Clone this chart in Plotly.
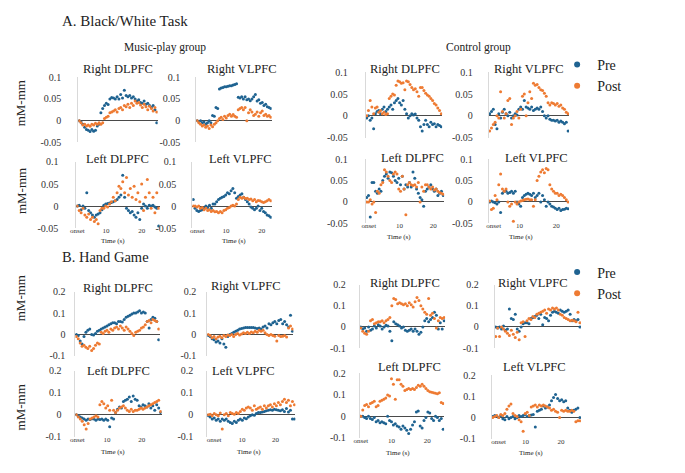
import plotly.graph_objects as go

W, H = 685, 473
N = 44
t = list(range(N))

# ---------------- A. Black/White Task : Music-play group ----------------
bw_music_rdl_pre = [0.0, -0.003, -0.008, -0.015, -0.02, -0.022, -0.025, -0.02, -0.024, -0.022, -0.012, -0.008, 0.018, 0.028, 0.035, 0.04, 0.037, 0.05, 0.053, 0.052, 0.05, 0.055, 0.05, 0.06, 0.052, 0.07, 0.058, 0.055, 0.058, 0.052, 0.055, 0.05, 0.045, 0.048, 0.042, 0.04, 0.045, 0.038, 0.04, 0.035, 0.03, 0.035, 0.025, -0.005]
bw_music_rdl_post = [0.0, -0.005, -0.01, -0.008, -0.012, -0.01, -0.013, -0.008, -0.01, -0.006, -0.008, -0.005, -0.008, -0.005, 0.005, 0.008, 0.01, 0.018, 0.02, 0.022, 0.025, 0.02, 0.028, 0.03, 0.025, 0.035, 0.032, 0.038, 0.03, 0.04, 0.035, 0.045, 0.04, 0.042, 0.036, 0.03, 0.038, 0.032, 0.025, 0.033, 0.028, 0.022, 0.03, 0.02]
bw_music_rvl_pre = [0.0, -0.002, 0.0, -0.005, -0.003, -0.008, -0.005, 0.0, -0.005, 0.012, 0.01, 0.03, 0.028, 0.073, 0.075, 0.076, 0.078, 0.078, 0.079, 0.08, 0.08, 0.082, 0.083, 0.085, 0.054, 0.052, 0.055, 0.05, 0.055, 0.048, 0.05, 0.046, 0.05, 0.055, 0.06, 0.045, 0.048, 0.04, 0.042, 0.035, 0.038, 0.032, 0.03, 0.028]
bw_music_rvl_post = [0.0, -0.005, -0.008, -0.012, -0.01, -0.015, -0.012, -0.018, -0.01, -0.014, -0.008, -0.005, 0.0, 0.005, 0.008, 0.003, 0.01, 0.006, 0.012, 0.015, 0.01, 0.014, 0.01, 0.008, 0.025, 0.028, 0.03, 0.025, 0.03, 0.0, 0.018, 0.025, 0.02, 0.012, 0.015, 0.02, 0.01, 0.018, 0.022, 0.012, 0.015, 0.01, 0.012, 0.008]
bw_music_ldl_pre = [0.0, 0.002, -0.008, 0.0, -0.005, 0.03, -0.01, -0.015, -0.02, -0.025, -0.02, -0.018, -0.015, -0.008, 0.002, 0.005, 0.006, 0.007, 0.008, 0.01, 0.012, 0.015, 0.02, 0.025, 0.07, 0.02, -0.005, -0.01, -0.015, -0.012, -0.02, -0.025, -0.015, -0.03, -0.005, 0.005, 0.0, -0.005, 0.002, 0.0, 0.002, -0.002, -0.005, -0.045]
bw_music_ldl_post = [0.0, -0.01, -0.015, -0.005, -0.02, -0.025, -0.018, -0.03, -0.025, -0.035, -0.03, -0.04, -0.01, -0.005, -0.005, 0.0, -0.002, 0.005, 0.01, 0.02, 0.012, 0.03, 0.045, 0.04, 0.055, 0.03, 0.065, 0.025, 0.04, 0.02, 0.045, 0.015, 0.03, 0.01, 0.05, -0.01, 0.02, 0.06, 0.03, -0.005, 0.02, -0.015, 0.03, -0.005]
bw_music_lvl_pre = [0.015, -0.005, -0.01, -0.012, -0.01, -0.008, -0.005, 0.0, -0.003, 0.002, -0.005, 0.005, 0.005, 0.01, 0.015, 0.018, 0.02, 0.022, 0.025, 0.03, 0.028, 0.035, 0.04, 0.03, 0.018, 0.022, 0.025, 0.028, 0.02, 0.015, 0.01, 0.005, -0.002, -0.005, -0.008, -0.005, 0.0, -0.01, -0.005, -0.012, -0.015, -0.02, -0.022, -0.025]
bw_music_lvl_post = [0.0, 0.0, -0.002, 0.0, -0.005, -0.003, -0.008, -0.005, -0.01, -0.008, -0.012, -0.01, -0.013, -0.012, -0.015, -0.012, -0.015, -0.01, -0.008, -0.005, -0.003, 0.0, 0.002, 0.0, 0.005, 0.015, 0.02, 0.018, 0.02, 0.017, 0.018, 0.015, 0.016, 0.012, 0.015, 0.01, 0.013, 0.012, 0.01, 0.008, 0.01, 0.012, 0.015, 0.012]

# ---------------- A. Black/White Task : Control group ----------------
bw_ctrl_rdl_pre = [-0.005, 0.0, -0.01, -0.005, -0.03, 0.005, 0.01, 0.012, 0.005, 0.015, 0.02, 0.01, 0.015, 0.02, 0.025, 0.015, 0.03, 0.035, 0.04, 0.03, 0.025, 0.035, 0.015, 0.005, -0.005, 0.0, 0.005, 0.002, 0.004, -0.005, -0.01, -0.025, -0.035, -0.02, -0.01, -0.02, -0.025, -0.015, -0.02, -0.018, -0.025, -0.02, -0.022, -0.025]
bw_ctrl_rdl_post = [0.0, 0.012, 0.035, 0.02, 0.005, 0.018, 0.02, 0.008, 0.012, 0.005, 0.008, 0.003, 0.005, 0.04, 0.045, 0.05, 0.048, 0.07, 0.08, 0.078, 0.075, 0.076, 0.06, 0.08, 0.078, 0.072, 0.065, 0.06, 0.062, 0.055, 0.045, 0.065, 0.065, 0.058, 0.052, 0.048, 0.045, 0.04, 0.035, 0.028, 0.025, 0.018, 0.012, 0.005]
bw_ctrl_rvl_pre = [0.005, 0.01, 0.015, -0.02, -0.03, 0.005, -0.005, 0.008, 0.015, 0.005, 0.0, 0.008, -0.005, 0.0, 0.005, 0.002, 0.015, 0.02, 0.015, 0.035, 0.02, 0.018, 0.015, 0.02, 0.012, 0.015, 0.018, 0.015, 0.02, 0.01, 0.0, -0.005, 0.0, -0.008, -0.01, -0.01, -0.012, -0.01, -0.015, -0.012, -0.015, -0.018, -0.015, -0.035]
bw_ctrl_rvl_post = [-0.035, -0.028, -0.02, -0.015, 0.0, -0.005, 0.055, 0.01, -0.005, 0.005, 0.035, 0.04, -0.02, -0.005, 0.0, 0.01, -0.005, 0.015, 0.045, 0.05, 0.0, 0.03, 0.055, 0.04, 0.075, 0.07, 0.072, 0.065, 0.06, 0.058, 0.052, 0.045, 0.03, 0.025, 0.03, 0.028, 0.025, 0.028, 0.022, 0.025, 0.018, 0.015, 0.008, 0.005]
bw_ctrl_ldl_pre = [0.01, 0.015, -0.035, 0.045, 0.045, 0.025, 0.02, 0.03, 0.025, 0.05, 0.06, 0.065, 0.055, 0.07, 0.068, 0.06, 0.05, 0.045, 0.055, 0.04, 0.06, 0.03, 0.04, 0.035, 0.045, 0.035, 0.07, 0.055, 0.03, 0.02, 0.01, 0.005, -0.01, 0.025, 0.03, 0.035, 0.04, 0.03, 0.025, 0.03, 0.015, 0.02, 0.025, 0.015]
bw_ctrl_ldl_post = [0.0, 0.0, 0.005, -0.005, 0.0, -0.025, 0.025, 0.02, 0.04, 0.045, 0.075, 0.07, 0.06, 0.05, 0.045, 0.065, 0.07, 0.065, 0.03, 0.025, 0.06, 0.03, -0.03, 0.04, 0.045, 0.04, 0.038, 0.04, 0.035, 0.045, 0.0, 0.035, 0.025, 0.04, 0.04, 0.035, 0.03, 0.035, 0.028, 0.03, 0.025, 0.022, 0.02, 0.018]
bw_ctrl_lvl_pre = [0.0, 0.002, 0.0, -0.002, -0.005, 0.0, -0.025, 0.02, 0.025, 0.025, 0.02, 0.022, 0.025, 0.02, 0.025, 0.0, -0.005, -0.01, 0.01, 0.015, 0.018, 0.02, 0.018, 0.015, 0.02, 0.01, 0.015, 0.02, 0.0, 0.015, 0.005, -0.01, 0.0, -0.005, -0.01, -0.012, -0.015, -0.018, -0.015, -0.02, -0.018, -0.017, -0.015, -0.016]
bw_ctrl_lvl_post = [0.002, -0.018, -0.015, 0.015, 0.005, 0.04, 0.065, 0.03, 0.025, 0.03, 0.0, -0.01, -0.005, -0.045, 0.0, -0.005, 0.0, 0.002, 0.003, 0.005, 0.006, 0.007, 0.005, 0.005, -0.01, 0.005, 0.05, 0.06, 0.07, 0.075, 0.068, 0.078, 0.075, 0.04, 0.03, 0.025, 0.02, 0.02, 0.015, 0.018, 0.015, 0.01, 0.005, 0.0]

# ---------------- B. Hand Game : Music-play group ----------------
hg_music_rdl_pre = [0.0, -0.005, -0.03, -0.045, -0.01, 0.01, 0.02, 0.025, 0.0, -0.002, 0.005, 0.015, 0.02, 0.025, 0.03, 0.035, 0.04, 0.045, 0.05, 0.055, 0.055, 0.05, 0.06, 0.06, 0.058, 0.07, 0.08, 0.085, 0.09, 0.095, 0.1, 0.1, 0.105, 0.11, 0.1, 0.105, 0.1, 0.06, 0.03, 0.07, 0.08, 0.075, 0.06, -0.025]
hg_music_rdl_post = [-0.01, -0.02, -0.04, -0.055, -0.05, -0.06, -0.065, -0.055, -0.075, -0.065, -0.05, -0.04, -0.045, 0.01, 0.005, 0.015, 0.02, 0.01, 0.025, 0.02, 0.03, 0.035, 0.025, 0.04, 0.03, 0.02, 0.035, 0.025, 0.015, 0.005, -0.005, 0.01, 0.015, 0.02, 0.03, 0.035, 0.045, 0.06, 0.065, 0.055, 0.07, 0.065, 0.06, 0.025]
hg_music_rvl_pre = [-0.005, -0.01, -0.02, -0.025, -0.035, -0.03, -0.04, -0.02, -0.045, -0.06, -0.01, 0.0, 0.005, 0.01, 0.015, 0.02, 0.025, 0.028, 0.03, 0.032, 0.033, 0.033, 0.032, 0.033, 0.03, 0.028, 0.03, 0.025, 0.035, 0.04, 0.03, 0.05, 0.045, 0.055, 0.06, 0.05, 0.065, 0.07, 0.05, 0.06, 0.045, 0.035, 0.09, 0.015]
hg_music_rvl_post = [0.0, -0.005, -0.015, -0.01, -0.02, -0.012, -0.008, -0.015, -0.005, -0.01, -0.002, -0.005, 0.0, -0.01, 0.0, 0.005, -0.003, 0.002, 0.008, 0.005, 0.01, 0.005, 0.012, 0.008, 0.015, 0.01, 0.02, 0.015, 0.02, 0.008, 0.0, -0.005, 0.0, -0.005, -0.008, -0.03, -0.005, -0.01, -0.008, -0.005, -0.012, 0.03, 0.04, 0.025]
hg_music_ldl_pre = [0.0, -0.005, -0.01, -0.015, -0.02, -0.025, -0.02, -0.022, -0.018, -0.02, -0.025, -0.02, -0.022, -0.02, -0.025, -0.02, -0.025, -0.055, -0.015, -0.02, 0.01, 0.025, 0.035, 0.03, 0.06, 0.065, 0.07, 0.08, 0.06, 0.085, 0.07, 0.065, 0.04, 0.035, 0.045, 0.04, 0.035, 0.05, 0.03, 0.04, 0.02, 0.045, 0.03, 0.01]
hg_music_ldl_post = [0.0, -0.01, -0.02, -0.03, -0.045, -0.065, -0.04, -0.02, -0.015, -0.01, -0.005, -0.01, 0.045, 0.06, 0.05, 0.03, 0.04, 0.02, 0.065, 0.02, 0.01, 0.02, 0.03, 0.035, 0.04, 0.03, 0.02, 0.015, 0.025, 0.015, 0.02, 0.02, 0.025, 0.03, 0.025, 0.03, 0.035, 0.04, 0.045, 0.05, 0.055, 0.06, 0.065, 0.015]
hg_music_lvl_pre = [-0.005, -0.01, -0.02, -0.015, -0.025, -0.02, -0.03, -0.02, -0.025, -0.02, -0.03, -0.035, -0.04, -0.03, -0.035, -0.025, -0.02, -0.025, -0.015, -0.018, -0.01, -0.005, 0.0, -0.002, 0.005, 0.01, 0.01, 0.012, 0.015, 0.018, 0.02, 0.022, 0.02, 0.025, 0.022, 0.02, 0.018, 0.022, 0.015, 0.028, 0.012, 0.02, -0.02, -0.02]
hg_music_lvl_post = [0.0, 0.002, -0.005, 0.005, 0.0, -0.005, 0.008, -0.065, 0.0, 0.005, -0.005, 0.01, 0.005, 0.002, 0.01, 0.005, 0.015, 0.025, 0.02, 0.03, 0.035, 0.03, 0.02, 0.04, 0.025, 0.03, 0.035, 0.025, 0.04, 0.03, 0.04, 0.045, 0.035, 0.05, 0.04, 0.055, 0.045, 0.06, 0.07, 0.055, 0.065, 0.04, 0.06, 0.045]

# ---------------- B. Hand Game : Control group ----------------
hg_ctrl_rdl_pre = [0.0, -0.01, -0.005, -0.02, 0.0, -0.015, -0.01, 0.005, -0.005, 0.01, 0.005, -0.01, 0.0, 0.008, 0.005, -0.02, -0.065, 0.025, 0.015, 0.01, 0.005, -0.005, 0.0, -0.015, -0.02, -0.015, -0.01, -0.02, -0.01, -0.02, -0.035, -0.025, 0.0, 0.03, 0.04, 0.025, 0.035, 0.045, 0.07, 0.055, -0.01, 0.02, -0.01, 0.03]
hg_ctrl_rdl_post = [-0.005, -0.02, -0.03, -0.035, -0.02, 0.03, 0.035, 0.015, 0.02, 0.025, 0.025, 0.03, 0.02, 0.03, 0.035, 0.045, 0.1, 0.135, 0.13, 0.11, 0.115, 0.11, 0.105, 0.11, 0.1, 0.115, 0.105, 0.095, 0.12, 0.14, 0.125, 0.1, 0.085, 0.07, 0.06, 0.135, 0.055, 0.065, 0.04, -0.005, 0.03, 0.045, 0.04, 0.045]
hg_ctrl_rvl_pre = [0.0, -0.005, 0.0, -0.01, 0.005, -0.015, -0.01, 0.085, 0.04, 0.035, 0.06, -0.01, -0.02, 0.0, 0.015, 0.02, 0.02, 0.015, 0.04, 0.045, 0.05, 0.055, 0.04, 0.06, 0.01, 0.045, 0.04, 0.03, 0.055, 0.07, 0.075, 0.07, 0.065, 0.08, 0.075, 0.07, 0.075, 0.08, 0.06, 0.03, 0.035, 0.03, 0.035, 0.0]
hg_ctrl_rvl_post = [-0.045, -0.005, -0.045, 0.0, -0.01, -0.02, -0.03, -0.04, -0.015, -0.035, -0.05, -0.025, -0.06, 0.02, 0.025, -0.045, 0.03, 0.04, 0.035, 0.05, 0.045, 0.06, 0.065, 0.07, 0.075, 0.08, 0.065, 0.085, 0.08, 0.09, 0.085, 0.09, 0.08, 0.06, 0.055, 0.045, 0.04, 0.035, 0.03, 0.032, 0.03, 0.025, 0.07, 0.02]
hg_ctrl_ldl_pre = [0.0, 0.0, -0.005, -0.01, 0.0, -0.01, -0.015, -0.005, -0.025, -0.02, -0.03, -0.025, -0.03, -0.035, 0.0, -0.02, -0.025, -0.04, -0.035, -0.045, -0.05, -0.06, -0.045, -0.055, -0.065, -0.08, -0.06, -0.04, -0.025, 0.02, 0.025, -0.045, -0.055, -0.02, -0.005, 0.02, 0.015, -0.01, -0.02, 0.0, -0.005, -0.02, -0.01, -0.06]
hg_ctrl_ldl_post = [0.0, 0.03, 0.05, 0.055, 0.045, 0.06, 0.065, 0.07, 0.045, 0.05, 0.07, 0.075, 0.08, 0.085, 0.1, 0.095, 0.175, 0.15, 0.08, 0.17, 0.17, 0.15, 0.14, 0.12, 0.125, 0.13, 0.125, 0.13, 0.125, 0.135, 0.145, 0.14, 0.15, 0.14, 0.13, 0.12, 0.115, 0.112, 0.11, 0.108, 0.105, 0.11, 0.065, 0.06]
hg_ctrl_lvl_pre = [0.005, 0.01, 0.008, 0.0, 0.01, -0.005, -0.01, 0.005, -0.005, 0.0, 0.005, -0.005, 0.0, 0.01, 0.005, 0.01, 0.015, 0.005, 0.01, 0.012, 0.015, -0.045, 0.03, 0.035, 0.04, 0.055, 0.045, 0.05, 0.06, 0.08, 0.095, 0.11, 0.09, 0.08, 0.085, 0.075, 0.08, 0.045, 0.035, 0.025, 0.035, 0.04, 0.045, 0.0]
hg_ctrl_lvl_post = [0.0, 0.005, 0.01, 0.0, 0.015, 0.01, 0.02, 0.04, 0.055, 0.065, 0.02, 0.01, 0.005, -0.01, -0.02, -0.065, 0.02, 0.025, 0.01, 0.05, 0.055, 0.06, 0.05, 0.06, 0.055, 0.06, 0.055, 0.05, 0.045, 0.035, 0.04, 0.03, 0.025, 0.0, 0.035, 0.03, 0.035, 0.03, 0.03, 0.035, 0.03, -0.02, -0.015, -0.015]

series_names = ["Pre", "Post"]
region_titles = ["Right DLPFC", "Right VLPFC", "Left DLPFC", "Left VLPFC"]
y_ticks_a = [-0.05, 0, 0.05, 0.1]
y_ticks_a_text = ["-0.05", "0", "0.05", "0.1"]
y_ticks_b = [-0.1, 0, 0.1, 0.2]
y_ticks_b_text = ["-0.1", "0", "0.1", "0.2"]
x_tick_text = ["onset", "10", "20"]

PRE_COLOR = "#1f6391"
POST_COLOR = "#ee7b33"
COLORS = [PRE_COLOR, POST_COLOR]
FONT = "Liberation Serif"

# panel layout (pixel boxes): x0, x1, y_top(px of range max), y_bot(px of range min), title centre, x-tick px
panels = [
    # A music
    dict(pre=bw_music_rdl_pre, post=bw_music_rdl_post, title=0, sec="A", box=(73, 153, 73, 140), tpos=(113, 65), xt=None, so=14),
    dict(pre=bw_music_rvl_pre, post=bw_music_rvl_post, title=1, sec="A", box=(192, 268, 73, 140), tpos=(238, 65), xt=None, so=13),
    dict(pre=bw_music_ldl_pre, post=bw_music_ldl_post, title=2, sec="A", box=(71, 155, 160, 228), tpos=(112, 157), xt=(72, 101, 137), so=15),
    dict(pre=bw_music_lvl_pre, post=bw_music_lvl_post, title=3, sec="A", box=(188, 268, 160, 228), tpos=(237, 157), xt=(193, 222, 258), so=13),
    # A control
    dict(pre=bw_ctrl_rdl_pre, post=bw_ctrl_rdl_post, title=0, sec="A", box=(363, 440, 68, 135), tpos=(403, 65), xt=None, so=15),
    dict(pre=bw_ctrl_rvl_pre, post=bw_ctrl_rvl_post, title=1, sec="A", box=(487, 568, 68, 135), tpos=(528, 65), xt=None, so=13),
    dict(pre=bw_ctrl_ldl_pre, post=bw_ctrl_ldl_post, title=2, sec="A", box=(363, 442, 157, 223), tpos=(410, 156), xt=(366, 397, 431), so=15),
    dict(pre=bw_ctrl_lvl_pre, post=bw_ctrl_lvl_post, title=3, sec="A", box=(487, 568, 157, 223), tpos=(535, 156), xt=(492, 518, 555), so=13),
    # B music
    dict(pre=hg_music_rdl_pre, post=hg_music_rdl_post, title=0, sec="B", box=(70, 155, 293, 359), tpos=(113, 289), xt=None, so=7),
    dict(pre=hg_music_rvl_pre, post=hg_music_rvl_post, title=1, sec="B", box=(203, 290, 293, 359), tpos=(242, 287), xt=None, so=8),
    dict(pre=hg_music_ldl_pre, post=hg_music_ldl_post, title=2, sec="B", box=(70, 157, 374, 442), tpos=(113, 374), xt=(72, 102, 137), so=11),
    dict(pre=hg_music_lvl_pre, post=hg_music_lvl_post, title=3, sec="B", box=(203, 292, 374, 442), tpos=(240, 374), xt=(210, 238, 272), so=11),
    # B control
    dict(pre=hg_ctrl_rdl_pre, post=hg_ctrl_rdl_post, title=0, sec="B", box=(357, 443, 286, 351), tpos=(403, 284), xt=None, so=11),
    dict(pre=hg_ctrl_rvl_pre, post=hg_ctrl_rvl_post, title=1, sec="B", box=(493, 580, 286, 351), tpos=(532, 284), xt=None, so=13),
    dict(pre=hg_ctrl_ldl_pre, post=hg_ctrl_ldl_post, title=2, sec="B", box=(357, 442, 377, 443), tpos=(407, 370), xt=(358, 389, 425), so=11),
    dict(pre=hg_ctrl_lvl_pre, post=hg_ctrl_lvl_post, title=3, sec="B", box=(490, 580, 379, 444), tpos=(533, 370), xt=(497, 524, 560), so=13),
]

def px(x):
    return x / W

def py(y):
    return 1 - y / H

fig = go.Figure()
layout = dict(
    width=W, height=H, margin=dict(l=0, r=0, t=0, b=0),
    paper_bgcolor="white", plot_bgcolor="white",
    font=dict(family=FONT, color="#222222"),
    showlegend=True,
)
annotations = []

for k, p in enumerate(panels, start=1):
    x0, x1, yt, yb = p["box"]
    xa = "x" if k == 1 else f"x{k}"
    ya = "y" if k == 1 else f"y{k}"
    for name, vals, col in zip(series_names, (p["pre"], p["post"]), COLORS):
        fig.add_trace(go.Scatter(
            x=t, y=vals, mode="markers", name=name,
            marker=dict(color=col, size=3),
            xaxis=xa, yaxis=ya, showlegend=False,
        ))
    if p["sec"] == "A":
        yr, yv, ytx = [-0.05, 0.1], y_ticks_a, y_ticks_a_text
    else:
        yr, yv, ytx = [-0.1, 0.2], y_ticks_b, y_ticks_b_text
    xkey = "xaxis" if k == 1 else f"xaxis{k}"
    ykey = "yaxis" if k == 1 else f"yaxis{k}"
    xax = dict(domain=[px(x0), px(x1)], range=[-0.5, N - 0.5], anchor=ya,
               showgrid=False, zeroline=False, showline=False, ticks="",
               showticklabels=False)
    if p["xt"] is not None:
        tv = [max(0.0, (q - x0) / (x1 - x0) * N - 0.5) for q in p["xt"]]
        xax.update(showticklabels=True, tickvals=tv, ticktext=x_tick_text,
                   tickfont=dict(size=7, family=FONT, color="#333"), ticklabelstandoff=-3)
    layout[xkey] = xax
    layout[ykey] = dict(domain=[py(yb), py(yt)], range=yr, anchor=xa,
                        showgrid=False, zeroline=True, zerolinecolor="#4a4a4a", zerolinewidth=1,
                        showline=True, linecolor="#d9d9d9", linewidth=1, ticks="",
                        tickvals=yv, ticktext=ytx, ticklabelstandoff=p["so"],
                        tickfont=dict(size=10, family=FONT, color="#333"))
    annotations.append(dict(x=px(p["tpos"][0]), y=py(p["tpos"][1]), xref="paper", yref="paper",
                            text=region_titles[p["title"]], showarrow=False,
                            xanchor="center", yanchor="middle",
                            font=dict(size=12.5, family=FONT, color="#222")))

# legend-only entries (one legend per task section)
for leg in ("legend", "legend2"):
    for name, col in zip(series_names, COLORS):
        fig.add_trace(go.Scatter(x=[None], y=[None], mode="markers", name=name,
                                 marker=dict(color=col, size=6), legend=leg,
                                 xaxis="x", yaxis="y", showlegend=True))

# section headings and group labels
texts = [
    ("A. Black/White Task", 54, 15, 15, "left"),
    ("B. Hand Game", 54, 258, 14.5, "left"),
    ("Music-play group", 160, 43, 11.5, "center"),
    ("Control group", 477, 43, 11.5, "center"),
    ("Time (s)", 108, 241, 7, "center"),
    ("Time (s)", 230, 241, 7, "center"),
    ("Time (s)", 396, 237, 7, "center"),
    ("Time (s)", 520, 237, 7, "center"),
    ("Time (s)", 108, 458, 7, "center"),
    ("Time (s)", 245, 458, 7, "center"),
    ("Time (s)", 395, 459, 7, "center"),
    ("Time (s)", 530, 459, 7, "center"),
]
for txt, x, y, s, anc in texts:
    annotations.append(dict(x=px(x), y=py(y), xref="paper", yref="paper", text=txt,
                            showarrow=False, xanchor=anc, yanchor="middle",
                            font=dict(size=s, family=FONT, color="#222")))
for y in (100, 190, 300, 412):
    annotations.append(dict(x=px(15), y=py(y), xref="paper", yref="paper", text="mM-mm",
                            showarrow=False, textangle=-90, xanchor="center", yanchor="middle",
                            font=dict(size=13, family=FONT, color="#222")))

layout["annotations"] = annotations
leg_common = dict(font=dict(size=14, family=FONT, color="#222"), bgcolor="rgba(0,0,0,0)",
                  xanchor="left", yanchor="top", itemwidth=30, tracegroupgap=0)
layout["legend"] = dict(x=px(556), y=py(44), **leg_common)
layout["legend2"] = dict(x=px(556), y=py(257), **leg_common)
fig.update_layout(**layout)
fig.write_html("out.html", config={"displayModeBar": False},
               post_script="document.body.style.margin='0px';")
